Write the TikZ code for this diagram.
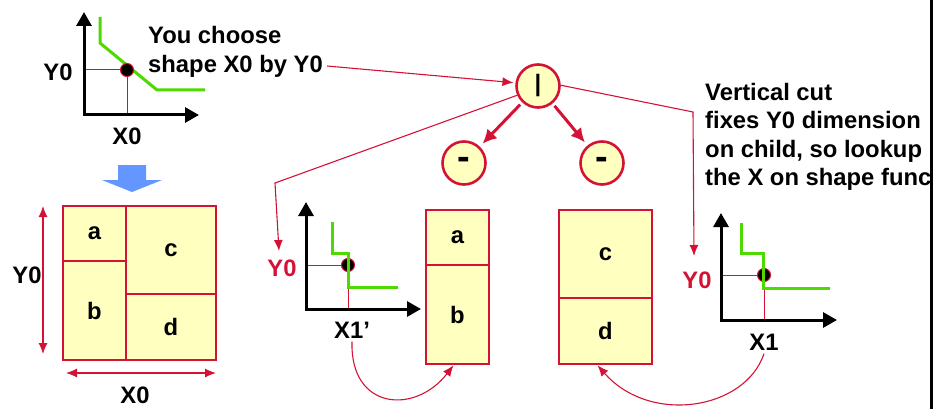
\documentclass[tikz,border=0pt]{standalone}
\usepackage{fontspec}
\setmainfont{Liberation Sans}
\usetikzlibrary{arrows.meta,positioning}
\definecolor{cutred}{RGB}{212,18,54}
\definecolor{celllight}{RGB}{255,255,192}
\definecolor{curvegreen}{RGB}{76,218,0}
\definecolor{hintblue}{RGB}{100,150,255}

\begin{document}
\begin{tikzpicture}[x=1pt,y=-1pt,
        every node/.style={font=\bfseries\fontsize{23.8}{28.5}\selectfont},
        cell/.style={rectangle,draw=cutred,fill=celllight,line width=2.6pt,inner sep=0pt},
        op/.style={circle,draw=cutred,fill=celllight,line width=2.6pt,minimum size=43pt,inner sep=0pt},
        pt/.style={circle,draw=cutred,fill=black,line width=1pt,minimum size=13pt,inner sep=0pt},
        axis/.style={{Triangle[length=14pt,width=15pt]}-{Triangle[length=14pt,width=15pt]},line width=3pt},
        sfunc/.style={curvegreen,line width=3pt},
        guide/.style={cutred,line width=1pt},
        link/.style={cutred,line width=1.1pt,-{Latex[length=11pt,width=9pt]}},
        tree/.style={cutred,line width=3pt,-{Latex[length=14pt,width=14pt]},shorten <=3pt,shorten >=4pt},
        dim/.style={cutred,line width=1.1pt,{Latex[length=11pt,width=9pt]}-{Latex[length=11pt,width=9pt]}}]
        \useasboundingbox (0,0) rectangle (936,409);
        % shape function of the whole floorplan
        \coordinate (o1) at (84,115);
        \coordinate (yt1) at (84,12);
        \coordinate (xt1) at (199,115);
        \coordinate (p1) at (127,70);
        \draw[sfunc] (100,17) -- (100,43) -- (157,90) -- (205,90);
        \draw[guide] (o1 |- p1) -- (p1) -- (p1 |- o1);
        \draw[axis] (yt1) -- (o1) -- (xt1);
        \node[pt] (dot1) at (p1) {};
        \node (ly1) at (58,72) {Y0};
        \node (lx1) at (127,136) {X0};
        \node[anchor=west,align=left,inner sep=0pt] (say) at (148,52) {You choose\\shape X0 by Y0};
        \coordinate (sayend) at (327,66);
        \fill[hintblue] (118,165) -- (146,165) -- (146,180) -- (162,180) -- (132,192) -- (102,180) -- (118,180) -- cycle;
        % floorplan
        \node[cell,minimum width=63pt,minimum height=55pt] (a) at (94.5,233.5) {a};
        \node[cell,minimum width=63pt,minimum height=99pt] (b) at (94.5,310.5) {b};
        \node[cell,minimum width=90pt,minimum height=88pt] (c) at (171,250) {c};
        \node[cell,minimum width=90pt,minimum height=66pt] (d) at (171,327) {d};
        \coordinate (ytop) at (43,206);
        \coordinate (ybot) at (43,354);
        \coordinate (xlft) at (66,373);
        \coordinate (xrgt) at (216,373);
        \draw[dim] (ytop) -- (ybot);
        \draw[dim] (xlft) -- (xrgt);
        \node (ly0) at (27,275) {Y0};
        \node (lx0) at (135,395) {X0};
        % slicing tree
        \node[op] (cut) at (538,86) {|};
        \node[op] (left) at (464,163) {\fontsize{38}{38}\selectfont -};
        \node[op] (right) at (602,163) {\fontsize{38}{38}\selectfont -};
        \draw[tree] (cut) -- (left);
        \draw[tree] (cut) -- (right);
        \draw[link,shorten >=2pt] (sayend) -- (cut.172);
        % left child
        \node[cell,minimum width=63pt,minimum height=55pt] (a2) at (457.5,237.5) {a};
        \node[cell,minimum width=63pt,minimum height=99pt] (b2) at (457.5,314.5) {b};
        \coordinate (o2) at (306,309);
        \coordinate (yt2) at (306,202);
        \coordinate (xt2) at (421,309);
        \coordinate (p2) at (348,265);
        \draw[guide] (o2 |- p2) -- (p2) -- (p2 |- o2);
        \node[pt] (dot2) at (p2) {};
        \draw[sfunc] (332,222) -- (332,253) -- (348,253) -- (348,287) -- (398,287);
        \draw[axis] (yt2) -- (o2) -- (xt2);
        \node[text=cutred] (ly2) at (282,268) {Y0};
        \node (lx2) at (352,330) {X1’};
        \coordinate (bendl) at (275,183);
        \coordinate (tipl) at (279,251);
        \draw[link] (cut.204) -- (bendl) -- (tipl);
        \draw[link] (lx2.south) .. controls (350,410) and (415,415) .. ([xshift=-4pt]b2.south);
        % right child
        \node[cell,minimum width=93pt,minimum height=88pt] (c2) at (605.5,254) {c};
        \node[cell,minimum width=93pt,minimum height=66pt] (d2) at (605.5,331) {d};
        \coordinate (o3) at (721,320);
        \coordinate (yt3) at (721,213);
        \coordinate (xt3) at (837,320);
        \coordinate (p3) at (764,275);
        \draw[guide] (o3 |- p3) -- (p3) -- (p3 |- o3);
        \node[pt] (dot3) at (p3) {};
        \draw[sfunc] (741,223) -- (741,253) -- (763,253) -- (763,288) -- (830,288);
        \draw[axis] (yt3) -- (o3) -- (xt3);
        \node[text=cutred] (ly3) at (697,280) {Y0};
        \node (lx3) at (764,342) {X1};
        \coordinate (bendr) at (693,112);
        \coordinate (tipr) at (694,256);
        \draw[link] (cut.2) -- (bendr) -- (tipr);
        \draw[link] (lx3.south) .. controls (745,410) and (650,425) .. ([xshift=-8pt]d2.south);
        \node[anchor=west,align=left,inner sep=0pt] (note) at (705,137) {Vertical cut\\fixes Y0 dimension\\on child, so lookup\\the X on shape func};
        \draw[line width=3pt] (931,0) -- (931,409);
      \end{tikzpicture}
\end{document}
